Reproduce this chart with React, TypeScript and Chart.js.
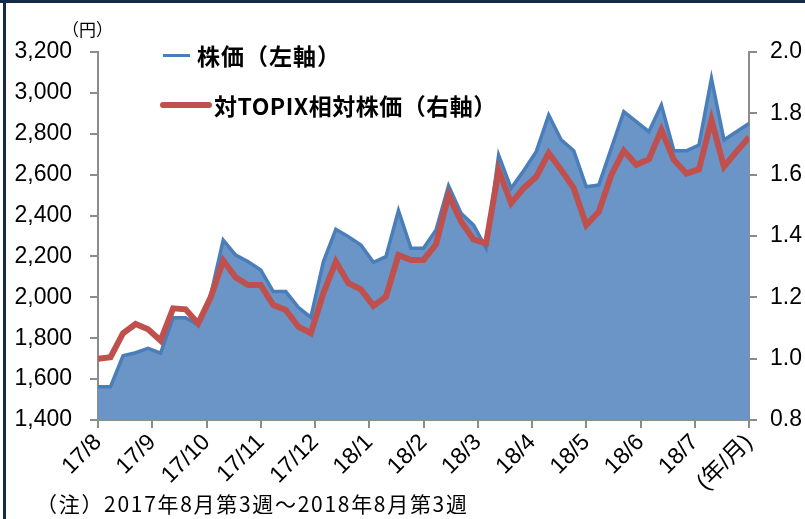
import React, { useEffect, useRef } from "react";
import { Chart, registerables } from "chart.js";

Chart.register(...registerables);

const X_LABELS = ["17/8", "17/9", "17/10", "17/11", "17/12", "18/1", "18/2", "18/3", "18/4", "18/5", "18/6", "18/7", "(年/月)"];

// weekly stock price (yen), 2017 Aug week 3 .. 2018 Aug week 3
const PRICE = [
  1563, 1563, 1714, 1729, 1750, 1727, 1900, 1900, 1865, 2010, 2280, 2207, 2174, 2134,
  2028, 2028, 1951, 1902, 2174, 2333, 2297, 2256, 2171, 2199, 2424, 2240, 2240, 2329,
  2545, 2411, 2354, 2240, 2696, 2533, 2619, 2712, 2892, 2770, 2717, 2541, 2549, 2729,
  2908, 2859, 2810, 2941, 2717, 2717, 2745, 3071, 2770, 2810, 2851,
];

// relative price vs TOPIX
const RELATIVE = [
  1.0, 1.005, 1.083, 1.113, 1.096, 1.059, 1.164, 1.161, 1.115, 1.2, 1.32, 1.265, 1.24, 1.24,
  1.175, 1.159, 1.104, 1.083, 1.213, 1.316, 1.246, 1.226, 1.172, 1.202, 1.338, 1.322, 1.322, 1.373,
  1.534, 1.447, 1.389, 1.376, 1.615, 1.507, 1.556, 1.593, 1.67, 1.615, 1.556, 1.436, 1.479, 1.599,
  1.678, 1.632, 1.65, 1.746, 1.648, 1.604, 1.617, 1.778, 1.626, 1.675, 1.722,
];

const LEFT_MIN = 1400;
const LEFT_MAX = 3200;
const LEFT_STEP = 200;
const RIGHT_MIN = 0.8;
const RIGHT_MAX = 2.0;
const RIGHT_STEP = 0.2;

const LEGEND_PRICE = "株価（左軸）";
const LEGEND_REL = "対TOPIX相対株価（右軸）";
const UNIT_LABEL = "（円）";
const NOTE = "（注）2017年8月第3週～2018年8月第3週";

const LATIN = "'Liberation Sans', Arial, 'Noto Sans CJK JP', sans-serif";
const CJK = "'Noto Sans CJK JP', 'Liberation Sans', sans-serif";

export default function App() {
  const ref = useRef<HTMLCanvasElement | null>(null);

  useEffect(() => {
    const canvas = ref.current;
    if (!canvas) return;
    const months = X_LABELS.length - 1;
    const toX = (i: number, n: number) => (i * months) / (n - 1);
    const axisColor = "#8c8c8c";
    const chart = new Chart(canvas, {
      type: "line",
      data: {
        datasets: [
          {
            label: LEGEND_REL,
            data: RELATIVE.map((v, i) => ({ x: toX(i, RELATIVE.length), y: v })),
            yAxisID: "y2",
            borderColor: "#C0504D",
            borderWidth: 6,
            pointRadius: 0,
            fill: false,
            order: 0,
            tension: 0,
          },
          {
            label: LEGEND_PRICE,
            data: PRICE.map((v, i) => ({ x: toX(i, PRICE.length), y: v })),
            yAxisID: "y",
            borderColor: "#4A7EBB",
            borderWidth: 3.5,
            backgroundColor: "#6A95C6",
            pointRadius: 0,
            fill: "start",
            order: 1,
            tension: 0,
          },
        ],
      },
      options: {
        animation: false,
        responsive: false,
        maintainAspectRatio: false,
        layout: { padding: { top: 52, left: 0, right: 0, bottom: 0 } },
        plugins: { legend: { display: false }, tooltip: { enabled: false } },
        scales: {
          x: {
            type: "linear",
            min: 0,
            max: months,
            afterFit: (s: any) => {
              s.height = 99;
            },
            grid: {
              drawOnChartArea: false,
              drawTicks: true,
              tickLength: 8,
              color: axisColor,
              lineWidth: 2,
            },
            border: { display: true, color: axisColor, width: 2 },
            ticks: {
              stepSize: 1,
              autoSkip: false,
              maxRotation: 45,
              minRotation: 45,
              padding: 1,
              color: "#000",
              font: { family: LATIN, size: 23 },
              callback: (v: any) => X_LABELS[Math.round(Number(v))] ?? "",
            },
          },
          y: {
            type: "linear",
            position: "left",
            min: LEFT_MIN,
            max: LEFT_MAX,
            afterFit: (s: any) => {
              s.width = 98;
            },
            grid: {
              drawOnChartArea: false,
              tickLength: 8,
              color: axisColor,
              lineWidth: 2,
            },
            border: { display: true, color: axisColor, width: 2 },
            ticks: {
              stepSize: LEFT_STEP,
              padding: 18,
              color: "#000",
              font: { family: LATIN, size: 23 },
              callback: (v: any) => Number(v).toLocaleString("en-US"),
            },
          },
          y2: {
            type: "linear",
            position: "right",
            min: RIGHT_MIN,
            max: RIGHT_MAX,
            afterFit: (s: any) => {
              s.width = 56;
            },
            grid: {
              drawOnChartArea: false,
              tickLength: 8,
              color: axisColor,
              lineWidth: 2,
            },
            border: { display: true, color: axisColor, width: 2 },
            ticks: {
              stepSize: RIGHT_STEP,
              padding: 13,
              color: "#000",
              font: { family: LATIN, size: 23 },
              callback: (v: any) => Number(v).toFixed(1),
            },
          },
        },
      },
    });
    return () => chart.destroy();
  }, []);

  return (
    <div
      style={{
        position: "absolute",
        left: 0,
        top: 0,
        width: 805,
        height: 519,
        background: "#fff",
        overflow: "hidden",
      }}
    >
      <canvas ref={ref} width={805} height={519} style={{ position: "absolute", left: 0, top: 0 }} />
      <div style={{ position: "absolute", left: 0, top: 0, width: 805, height: 3, background: "#15294B" }} />
      <div style={{ position: "absolute", left: 3, top: 0, width: 3, height: 519, background: "#15294B" }} />
      <div
        style={{
          position: "absolute",
          left: 62,
          top: 17,
          fontFamily: CJK,
          fontSize: 17,
          lineHeight: "24px",
          color: "#000",
          whiteSpace: "nowrap",
        }}
      >
        {UNIT_LABEL}
      </div>
      <div style={{ position: "absolute", left: 163, top: 54, width: 27, height: 3, background: "#4A7EBB" }} />
      <div
        style={{
          position: "absolute",
          left: 197,
          top: 40,
          fontFamily: CJK,
          fontWeight: 700,
          fontSize: 23,
          lineHeight: "30px",
          color: "#000",
          whiteSpace: "nowrap",
          letterSpacing: 1,
        }}
      >
        {LEGEND_PRICE}
      </div>
      <div style={{ position: "absolute", left: 160, top: 102, width: 52, height: 6, background: "#C0504D", borderRadius: 3 }} />
      <div
        style={{
          position: "absolute",
          left: 214,
          top: 90,
          fontFamily: CJK,
          fontWeight: 700,
          fontSize: 23,
          lineHeight: "30px",
          color: "#000",
          whiteSpace: "nowrap",
          letterSpacing: 0.5,
        }}
      >
        {LEGEND_REL}
      </div>
      <div
        style={{
          position: "absolute",
          left: 36,
          top: 488,
          fontFamily: CJK,
          fontSize: 21,
          letterSpacing: 1.7,
          lineHeight: "30px",
          color: "#000",
          whiteSpace: "nowrap",
        }}
      >
        {NOTE}
      </div>
    </div>
  );
}
